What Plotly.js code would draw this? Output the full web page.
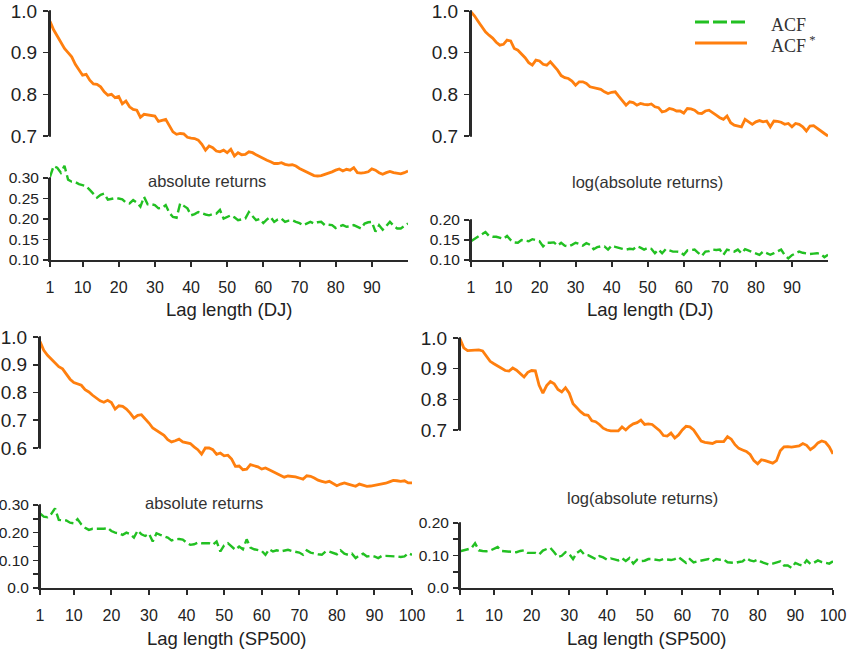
<!DOCTYPE html>
<html>
<head>
<meta charset="utf-8">
<script src="https://cdn.plot.ly/plotly-3.0.1.min.js"></script>
<style>html,body{margin:0;padding:0;background:#fff;}#chart{width:850px;height:653px;}</style>
</head>
<body>
<div id="chart"></div>
<script>
// ---------------- DATA ----------------
const lags = Array.from({length: 100}, (_, i) => i + 1);
const xTicksTop = [1, 10, 20, 30, 40, 50, 60, 70, 80, 90];
const xTicksBottom = [1, 10, 20, 30, 40, 50, 60, 70, 80, 90, 100];

const seriesNames = ["ACF", "ACF*"];
const panelNotes = ["absolute returns", "log(absolute returns)", "absolute returns", "log(absolute returns)"];
const axisTitles = ["Lag length (DJ)", "Lag length (DJ)", "Lag length (SP500)", "Lag length (SP500)"];

// DJ, absolute returns
const djAbsAcfStar = [0.975,0.955,0.940,0.926,0.910,0.900,0.890,0.872,0.858,0.846,
0.848,0.834,0.825,0.824,0.818,0.806,0.798,0.800,0.792,0.795,
0.777,0.784,0.770,0.764,0.762,0.745,0.752,0.751,0.750,0.748,
0.735,0.738,0.740,0.725,0.710,0.704,0.706,0.705,0.697,0.695,
0.694,0.690,0.680,0.666,0.676,0.672,0.664,0.662,0.666,0.660,
0.668,0.652,0.660,0.655,0.656,0.662,0.660,0.655,0.650,0.645,
0.642,0.638,0.634,0.634,0.636,0.632,0.630,0.631,0.628,0.622,
0.618,0.612,0.608,0.605,0.604,0.605,0.608,0.612,0.614,0.618,
0.621,0.616,0.620,0.618,0.624,0.612,0.611,0.612,0.614,0.621,
0.618,0.612,0.608,0.612,0.615,0.612,0.610,0.609,0.612,0.616];
const djAbsAcf = [0.303,0.329,0.325,0.313,0.330,0.296,0.291,0.290,0.285,0.283,
0.280,0.271,0.262,0.252,0.259,0.262,0.247,0.249,0.251,0.250,
0.248,0.240,0.238,0.246,0.240,0.230,0.254,0.236,0.236,0.234,
0.226,0.227,0.234,0.215,0.205,0.203,0.238,0.232,0.226,0.209,
0.212,0.217,0.213,0.211,0.209,0.212,0.213,0.222,0.201,0.206,
0.209,0.204,0.197,0.199,0.201,0.217,0.207,0.197,0.200,0.190,
0.199,0.205,0.193,0.199,0.201,0.193,0.196,0.197,0.193,0.190,
0.185,0.190,0.193,0.189,0.192,0.193,0.185,0.186,0.185,0.178,
0.182,0.185,0.181,0.182,0.185,0.181,0.177,0.189,0.192,0.193,
0.169,0.185,0.174,0.183,0.193,0.184,0.177,0.177,0.182,0.189];

// DJ, log(absolute returns)
const djLogAcfStar = [0.998,0.988,0.975,0.962,0.950,0.942,0.935,0.925,0.918,0.920,
0.930,0.928,0.910,0.906,0.898,0.888,0.876,0.870,0.882,0.880,
0.872,0.870,0.878,0.868,0.858,0.845,0.840,0.838,0.832,0.822,
0.830,0.830,0.826,0.818,0.816,0.814,0.812,0.806,0.802,0.805,
0.806,0.795,0.784,0.774,0.782,0.780,0.774,0.778,0.776,0.775,
0.777,0.770,0.768,0.758,0.760,0.766,0.764,0.760,0.760,0.755,
0.766,0.765,0.762,0.755,0.754,0.760,0.762,0.755,0.750,0.744,
0.740,0.748,0.732,0.726,0.724,0.722,0.740,0.734,0.728,0.734,
0.737,0.734,0.736,0.722,0.736,0.735,0.733,0.728,0.730,0.722,
0.730,0.728,0.722,0.712,0.724,0.725,0.718,0.712,0.706,0.700];
const djLogAcf = [0.147,0.153,0.160,0.166,0.170,0.160,0.158,0.158,0.155,0.153,
0.160,0.150,0.144,0.143,0.150,0.149,0.147,0.152,0.150,0.147,
0.134,0.143,0.143,0.144,0.136,0.143,0.136,0.134,0.138,0.143,
0.140,0.136,0.142,0.138,0.127,0.132,0.134,0.134,0.126,0.136,
0.133,0.130,0.128,0.126,0.128,0.127,0.134,0.131,0.126,0.130,
0.128,0.117,0.126,0.117,0.127,0.124,0.121,0.121,0.120,0.113,
0.124,0.125,0.126,0.118,0.110,0.121,0.122,0.126,0.125,0.126,
0.113,0.126,0.124,0.121,0.126,0.117,0.127,0.123,0.121,0.117,
0.113,0.121,0.116,0.113,0.117,0.121,0.126,0.112,0.104,0.112,
0.117,0.121,0.118,0.117,0.115,0.116,0.117,0.115,0.107,0.113];

// SP500, absolute returns
const spAbsAcfStar = [0.984,0.952,0.934,0.920,0.908,0.893,0.885,0.868,0.848,0.836,
0.830,0.826,0.810,0.802,0.790,0.780,0.770,0.765,0.772,0.764,
0.740,0.752,0.750,0.740,0.726,0.708,0.718,0.720,0.706,0.690,
0.672,0.664,0.656,0.646,0.630,0.622,0.626,0.632,0.622,0.620,
0.616,0.604,0.594,0.578,0.600,0.600,0.594,0.577,0.582,0.572,
0.574,0.560,0.534,0.535,0.522,0.524,0.540,0.536,0.532,0.524,
0.528,0.522,0.515,0.508,0.500,0.495,0.499,0.498,0.496,0.492,
0.488,0.500,0.498,0.492,0.484,0.480,0.476,0.480,0.472,0.464,
0.470,0.474,0.470,0.466,0.462,0.470,0.466,0.462,0.463,0.465,
0.468,0.470,0.473,0.478,0.483,0.482,0.480,0.482,0.474,0.474];
const spAbsAcf = [0.270,0.258,0.256,0.268,0.288,0.246,0.245,0.244,0.236,0.234,
0.249,0.230,0.218,0.210,0.214,0.214,0.212,0.214,0.218,0.206,
0.200,0.198,0.192,0.200,0.195,0.182,0.208,0.194,0.188,0.196,
0.168,0.198,0.192,0.188,0.182,0.172,0.176,0.177,0.175,0.164,
0.156,0.158,0.164,0.162,0.162,0.162,0.156,0.168,0.132,0.154,
0.162,0.150,0.138,0.150,0.140,0.176,0.146,0.140,0.138,0.134,
0.120,0.140,0.132,0.136,0.132,0.136,0.138,0.134,0.132,0.128,
0.120,0.136,0.128,0.124,0.122,0.120,0.132,0.132,0.128,0.122,
0.136,0.124,0.120,0.124,0.108,0.118,0.124,0.114,0.116,0.114,
0.108,0.116,0.116,0.116,0.116,0.114,0.112,0.114,0.126,0.120];

// SP500, log(absolute returns)
const spLogAcfStar = [0.997,0.968,0.959,0.959,0.960,0.961,0.958,0.940,0.924,0.916,
0.908,0.900,0.894,0.892,0.902,0.895,0.884,0.873,0.888,0.894,
0.893,0.846,0.820,0.845,0.858,0.851,0.832,0.824,0.838,0.820,
0.786,0.772,0.760,0.750,0.748,0.730,0.727,0.718,0.706,0.700,
0.697,0.697,0.697,0.710,0.700,0.712,0.720,0.724,0.732,0.718,
0.720,0.718,0.708,0.698,0.682,0.680,0.690,0.674,0.684,0.700,
0.712,0.710,0.700,0.680,0.664,0.660,0.659,0.656,0.662,0.662,
0.662,0.678,0.670,0.652,0.640,0.635,0.630,0.620,0.600,0.590,
0.603,0.600,0.597,0.592,0.600,0.632,0.645,0.646,0.644,0.645,
0.648,0.656,0.650,0.636,0.645,0.658,0.664,0.660,0.645,0.622];
const spLogAcf = [0.113,0.116,0.118,0.122,0.138,0.116,0.114,0.113,0.115,0.120,
0.126,0.114,0.113,0.113,0.111,0.110,0.114,0.116,0.108,0.109,
0.108,0.103,0.115,0.120,0.123,0.110,0.095,0.099,0.110,0.104,
0.089,0.108,0.116,0.103,0.101,0.095,0.089,0.098,0.094,0.087,
0.091,0.088,0.085,0.092,0.083,0.092,0.075,0.087,0.083,0.084,
0.089,0.089,0.088,0.085,0.089,0.087,0.086,0.089,0.095,0.086,
0.077,0.089,0.079,0.082,0.085,0.088,0.089,0.082,0.089,0.087,
0.088,0.079,0.078,0.077,0.080,0.082,0.092,0.085,0.082,0.087,
0.080,0.076,0.072,0.075,0.078,0.082,0.069,0.069,0.062,0.077,
0.072,0.069,0.085,0.074,0.078,0.085,0.080,0.077,0.075,0.082];

// upper (ACF*) tick values / labels
const upTicks1 = [0.7, 0.8, 0.9, 1.0];
const upLabels1 = ["0.7", "0.8", "0.9", "1.0"];
const upTicks3 = [0.6, 0.7, 0.8, 0.9, 1.0];
const upLabels3 = ["0.6", "0.7", "0.8", "0.9", "1.0"];
// lower (ACF) tick values / labels
const loTicks1 = [0.10, 0.15, 0.20, 0.25, 0.30];
const loLabels1 = ["0.10", "0.15", "0.20", "0.25", "0.30"];
const loTicks2 = [0.10, 0.15, 0.20];
const loLabels2 = ["0.10", "0.15", "0.20"];
const loTicks3 = [0.0, 0.10, 0.20, 0.30];
const loLabels3 = ["0.0", "0.10", "0.20", "0.30"];
const loMinor3 = [0.05, 0.15, 0.25];
const loTicks4 = [0.0, 0.10, 0.20];
const loLabels4 = ["0.0", "0.10", "0.20"];
const loMinor4 = [0.05, 0.15];

// ---------------- LAYOUT HELPERS ----------------
const W = 850, H = 653;
const px = p => p / W;
const py = p => 1 - p / H;
function rng(T, B, v1, p1, v2, p2) {
  const k = (v1 - v2) / (p1 - p2);
  return [v1 + (B - p1) * k, v1 + (T - p1) * k];
}
function rowOf(v, v1, p1, v2, p2) {
  return p1 + (v - v1) * (p1 - p2) / (v1 - v2);
}

const ORANGE = '#ff7f0e';
const GREEN = '#22c022';
const AX = '#2a2a2a';
const TXT = '#222';
const FONT = 'Liberation Sans, Arial, Helvetica, sans-serif';

const panels = [
  { xd: [50, 408], xt: xTicksTop,
    up: {T: 5, B: 185, r: [1.0, 11, 0.7, 136], tv: upTicks1, tt: upLabels1, line: [0.7, 1.0]},
    lo: {T: 155, B: 260, r: [0.30, 178, 0.10, 260], tv: loTicks1, tt: loLabels1, line: [0.10, 0.30], minor: null},
    star: djAbsAcfStar, acf: djAbsAcf, note: [207, 181], titleY: 310 },
  { xd: [471, 828], xt: xTicksTop,
    up: {T: 5, B: 185, r: [1.0, 11, 0.7, 136], tv: upTicks1, tt: upLabels1, line: [0.7, 1.0]},
    lo: {T: 200, B: 260, r: [0.20, 220, 0.10, 260], tv: loTicks2, tt: loLabels2, line: [0.10, 0.20], minor: null},
    star: djLogAcfStar, acf: djLogAcf, note: [647, 182], titleY: 310 },
  { xd: [40, 412], xt: xTicksBottom,
    up: {T: 330, B: 500, r: [1.0, 337, 0.6, 448], tv: upTicks3, tt: upLabels3, line: [0.6, 1.0]},
    lo: {T: 490, B: 588, r: [0.30, 505, 0.0, 588], tv: loTicks3, tt: loLabels3, line: [0.0, 0.30], minor: loMinor3},
    star: spAbsAcfStar, acf: spAbsAcf, note: [204, 503], titleY: 638 },
  { xd: [460, 833], xt: xTicksBottom,
    up: {T: 330, B: 480, r: [1.0, 338, 0.7, 430], tv: upTicks1, tt: upLabels1, line: [0.7, 1.0]},
    lo: {T: 500, B: 588, r: [0.20, 523, 0.0, 588], tv: loTicks4, tt: loLabels4, line: [0.0, 0.20], minor: loMinor4},
    star: spLogAcfStar, acf: spLogAcf, note: [642, 498], titleY: 638 }
];

const traces = [];
const layout = {
  width: W, height: H,
  margin: {l: 0, r: 0, t: 0, b: 0},
  paper_bgcolor: '#fff', plot_bgcolor: 'rgba(0,0,0,0)',
  showlegend: false, hovermode: false,
  font: {family: FONT, color: TXT},
  shapes: [], annotations: []
};

const axName = n => (n === 1 ? '' : String(n));

panels.forEach((p, i) => {
  const xn = 'x' + axName(i + 1);
  const nUpVis = 2 * i + 1, nLoVis = 2 * i + 2, nUpDat = 9 + 2 * i, nLoDat = 10 + 2 * i;

  traces.push({x: [], y: [], xaxis: xn, yaxis: 'y' + axName(nUpVis), type: 'scatter', mode: 'lines', hoverinfo: 'skip'});
  traces.push({x: [], y: [], xaxis: xn, yaxis: 'y' + axName(nLoVis), type: 'scatter', mode: 'lines', hoverinfo: 'skip'});

  traces.push({x: lags, y: p.star, xaxis: xn, yaxis: 'y' + axName(nUpDat), type: 'scatter', mode: 'lines',
    name: seriesNames[1], line: {color: ORANGE, width: 2.8}});
  traces.push({x: lags, y: p.acf, xaxis: xn, yaxis: 'y' + axName(nLoDat), type: 'scatter', mode: 'lines',
    name: seriesNames[0], line: {color: GREEN, width: 2.4, dash: '9px,4px'}});

  layout['xaxis' + axName(i + 1)] = {
    domain: [px(p.xd[0]), px(p.xd[1])], range: [1, 100], anchor: 'y' + axName(nLoVis),
    showline: true, linecolor: AX, linewidth: 1.6,
    ticks: 'outside', ticklen: 5, tickwidth: 2, tickcolor: AX,
    tickmode: 'array', tickvals: p.xt, ticktext: p.xt.map(String),
    ticklabelstandoff: 7,
    tickfont: {size: 16, color: TXT, family: FONT},
    showgrid: false, zeroline: false, fixedrange: true
  };

  const upTop = rowOf(p.up.line[1], ...p.up.r), upBot = rowOf(p.up.line[0], ...p.up.r);
  layout['yaxis' + axName(nUpVis)] = {
    domain: [py(upBot), py(upTop)], range: [p.up.line[0], p.up.line[1]], anchor: xn,
    showline: true, linecolor: AX, linewidth: 2,
    ticks: 'outside', ticklen: 5, tickwidth: 1.6, tickcolor: AX,
    tickmode: 'array', tickvals: p.up.tv, ticktext: p.up.tt, ticklabelstandoff: 2,
    tickfont: {size: 19, color: TXT, family: FONT},
    showgrid: false, zeroline: false, fixedrange: true
  };
  layout['yaxis' + axName(nUpDat)] = {
    domain: [py(p.up.B), py(p.up.T)], range: rng(p.up.T, p.up.B, ...p.up.r), anchor: xn,
    visible: false, showgrid: false, zeroline: false, fixedrange: true
  };

  const loTop = rowOf(p.lo.line[1], ...p.lo.r), loBot = rowOf(p.lo.line[0], ...p.lo.r);
  const lo = {
    domain: [py(loBot), py(loTop)], range: [p.lo.line[0], p.lo.line[1]], anchor: xn,
    showline: true, linecolor: AX, linewidth: 2,
    ticks: 'outside', ticklen: 5, tickwidth: 1.6, tickcolor: AX,
    tickmode: 'array', tickvals: p.lo.tv, ticktext: p.lo.tt, ticklabelstandoff: 1,
    tickfont: {size: 15.5, color: TXT, family: FONT},
    showgrid: false, zeroline: false, fixedrange: true
  };
  if (p.lo.minor) {
    lo.minor = {tickmode: 'array', tickvals: p.lo.minor, ticks: 'outside', ticklen: 5, tickwidth: 1.6, tickcolor: AX, showgrid: false};
  }
  layout['yaxis' + axName(nLoVis)] = lo;
  layout['yaxis' + axName(nLoDat)] = {
    domain: [py(p.lo.B), py(p.lo.T)], range: rng(p.lo.T, p.lo.B, ...p.lo.r), anchor: xn,
    visible: false, showgrid: false, zeroline: false, fixedrange: true
  };

  // explicit spines (paper coordinates), a little wider so they read clearly
  const xL = p.xd[0];
  [[upTop, upBot], [loTop, loBot]].forEach(([t, b]) => {
    layout.shapes.push({type: 'rect', xref: 'paper', yref: 'paper', layer: 'above',
      x0: px(xL - 1.2), x1: px(xL + 1.0), y0: py(b + 0.8), y1: py(t - 0.8),
      fillcolor: AX, line: {width: 0}});
  });

  layout.annotations.push({xref: 'paper', yref: 'paper', x: px(p.note[0]), y: py(p.note[1]),
    text: panelNotes[i], showarrow: false, xanchor: 'center', yanchor: 'middle',
    font: {size: 16.5, color: '#333', family: FONT}});
  layout.annotations.push({xref: 'paper', yref: 'paper', x: px((p.xd[0] + p.xd[1]) / 2), y: py(p.titleY),
    text: axisTitles[i], showarrow: false, xanchor: 'center', yanchor: 'middle',
    font: {size: 18.5, color: TXT, family: FONT}});
});

// legend (top right)
layout.shapes.push({type: 'line', xref: 'paper', yref: 'paper', x0: px(695), x1: px(747), y0: py(22), y1: py(22),
  line: {color: GREEN, width: 2.8, dash: '14px,4px'}});
layout.shapes.push({type: 'line', xref: 'paper', yref: 'paper', x0: px(695), x1: px(747), y0: py(43), y1: py(43),
  line: {color: ORANGE, width: 3}});
layout.annotations.push({xref: 'paper', yref: 'paper', x: px(769), y: py(25), text: seriesNames[0],
  showarrow: false, xanchor: 'left', yanchor: 'middle', font: {size: 18, color: '#333', family: 'Liberation Serif, Times New Roman, serif'}});
layout.annotations.push({xref: 'paper', yref: 'paper', x: px(769), y: py(44), text: 'ACF<sup> *</sup>',
  showarrow: false, xanchor: 'left', yanchor: 'middle', font: {size: 18, color: '#333', family: 'Liberation Serif, Times New Roman, serif'}});

Plotly.newPlot('chart', traces, layout, {staticPlot: true, displayModeBar: false});
</script>
</body>
</html>
